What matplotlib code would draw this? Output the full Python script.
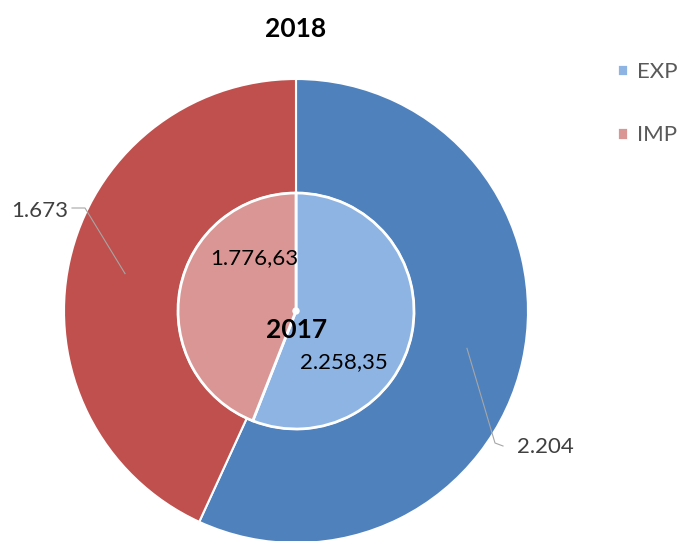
import matplotlib.pyplot as plt
import numpy as np

# data
categories = ['EXP', 'IMP']
values_2018 = [2204, 1673]
values_2017 = [2258.35, 1776.63]
labels_2018 = ['2.204', '1.673']
labels_2017 = ['2.258,35', '1.776,63']

W, H = 681, 541
plt.rcParams['font.family'] = ['Lato', 'DejaVu Sans']

fig = plt.figure(figsize=(W / 100, H / 100), dpi=100)
ax = fig.add_axes([0, 0, 1, 1])

cx, cy = 296, H - 311
r_out, r_in = 232, 118

outer_colors = ['#4F81BD', '#C0504D']
inner_colors = ['#8EB4E3', '#D99694']

outer, _ = ax.pie(values_2018, radius=r_out, center=(cx, cy), startangle=90,
                  counterclock=False, colors=outer_colors,
                  wedgeprops=dict(width=r_out - r_in, edgecolor='white', linewidth=1.5))
inner, _ = ax.pie(values_2017, radius=r_in, center=(cx, cy), startangle=90,
                  counterclock=False, colors=inner_colors,
                  wedgeprops=dict(edgecolor='white', linewidth=2))
ax.add_patch(plt.Circle((cx, cy), 3, color='white', zorder=5))

ax.set_xlim(0, W)
ax.set_ylim(0, H)
ax.set_aspect('equal')
ax.axis('off')

# outer labels with leader lines
r_mid = (r_out + r_in) / 2
bends = [[(495, 443), (503, 446)], [(85, 208), (72, 208)]]
text_pos = [(517, 447, 'left'), (68, 211, 'right')]
for w, lab, bend, (tx, ty, ha) in zip(outer, labels_2018, bends, text_pos):
    ang = np.deg2rad((w.theta1 + w.theta2) / 2)
    x0 = cx + r_mid * np.cos(ang)
    y0 = cy + r_mid * np.sin(ang)
    xs = [x0] + [p[0] for p in bend]
    ys = [y0] + [H - p[1] for p in bend]
    ax.plot(xs, ys, color='#A6A6A6', lw=0.8)
    ax.text(tx, H - ty, lab, ha=ha, va='center', fontsize=16, color='#404040')

# inner labels
for lab, (tx, ty) in zip(labels_2017, [(344, 362), (254, 258)]):
    ax.text(tx, H - ty, lab, ha='center', va='center', fontsize=16, color='black')

ax.text(296, H - 29, '2018', ha='center', va='center', fontsize=19, fontweight='bold')
ax.text(297, H - 330, '2017', ha='center', va='center', fontsize=19, fontweight='bold')

leg = ax.legend(inner, categories, loc='upper left', bbox_to_anchor=(617 / W, 1 - 62 / H),
                frameon=False, handlelength=0.5, handleheight=0.5,
                handletextpad=0.42, labelspacing=1.95, borderpad=0, borderaxespad=0,
                labelcolor='#595959',
                prop=dict(family=['Liberation Sans Narrow', 'Lato'], size=16))

fig.savefig('out.png', dpi=100)
